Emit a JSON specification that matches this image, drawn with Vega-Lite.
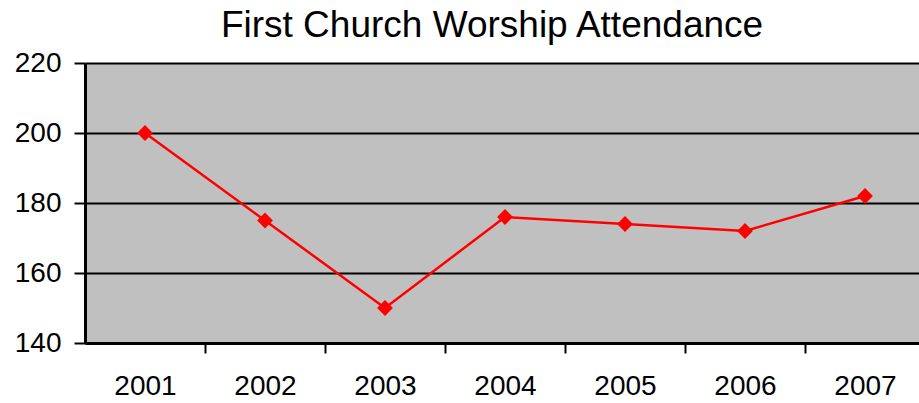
{
  "$schema": "https://vega.github.io/schema/vega-lite/v6.json",
  "width": 834,
  "height": 280,
  "autosize": "none",
  "padding": {"left": 85, "top": 63, "right": 0, "bottom": 60},
  "background": "white",
  "title": {
    "text": "First Church Worship Attendance",
    "font": "Liberation Sans",
    "fontSize": 37,
    "fontWeight": "normal",
    "color": "black",
    "anchor": "middle",
    "frame": "group",
    "dx": -10,
    "baseline": "alphabetic",
    "offset": -25
  },
  "config": {
    "view": {"fill": "#C0C0C0", "stroke": null},
    "font": "Liberation Sans"
  },
  "data": {
    "values": [
      {"year": 2001, "attendance": 200},
      {"year": 2002, "attendance": 175},
      {"year": 2003, "attendance": 150},
      {"year": 2004, "attendance": 176},
      {"year": 2005, "attendance": 174},
      {"year": 2006, "attendance": 172},
      {"year": 2007, "attendance": 182}
    ]
  },
  "encoding": {
    "x": {
      "field": "year",
      "type": "quantitative",
      "scale": {"domain": [2000.5, 2007.45], "nice": false, "zero": false},
      "axis": {
        "title": null,
        "values": [2000, 2001, 2002, 2003, 2004, 2005, 2006, 2007],
        "labelExpr": "datum.value < 2001 ? '' : format(datum.value, 'd')",
        "tickOffset": 60,
        "labelOffset": -60,
        "tickSize": 10,
        "tickWidth": 2,
        "tickColor": "black",
        "domainColor": "black",
        "domainWidth": 3,
        "grid": false,
        "labelFontSize": 28,
        "labelColor": "black",
        "labelPadding": 19,
        "labelFlush": false,
        "labelOverlap": false
      }
    },
    "y": {
      "field": "attendance",
      "type": "quantitative",
      "scale": {"domain": [140, 220], "nice": false, "zero": false},
      "axis": {
        "title": null,
        "values": [140, 160, 180, 200, 220],
        "tickSize": 11,
        "tickWidth": 2,
        "tickColor": "black",
        "domainColor": "black",
        "domainWidth": 3,
        "grid": true,
        "gridColor": "black",
        "gridWidth": 2,
        "gridOpacity": 1,
        "labelFontSize": 28,
        "labelColor": "black",
        "labelPadding": 13,
        "labelFlush": false,
        "labelOverlap": false
      }
    }
  },
  "layer": [
    {"mark": {"type": "line", "color": "#FF0000", "strokeWidth": 2.5}},
    {"mark": {"type": "point", "shape": "diamond", "filled": true, "color": "#FF0000", "opacity": 1, "size": 250}}
  ]
}
